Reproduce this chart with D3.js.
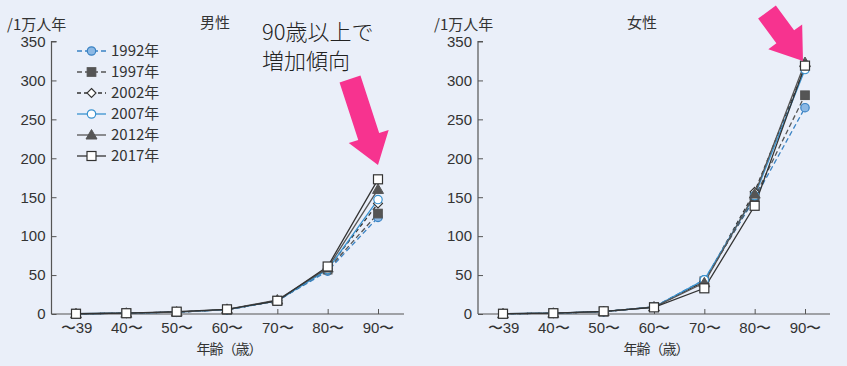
<!DOCTYPE html>
<html>
<head>
<meta charset="utf-8">
<script src="https://cdn.jsdelivr.net/npm/d3@7"></script>
<style>
  body { margin: 0; background: #eaeff9; }
  svg { display: block; font-family: "Noto Sans CJK JP", "Noto Sans", sans-serif; }
</style>
</head>
<body>
<div class="chart"></div>
<script>
var svgWidth = 847;
var svgHeight = 366;

// data (per 10,000 person-years)
var ages = ["〜39", "40〜", "50〜", "60〜", "70〜", "80〜", "90〜"];
var years = ["1992年", "1997年", "2002年", "2007年", "2012年", "2017年"];

var male1992 = [0.3, 1, 2.5, 5.5, 17, 55, 124];
var male1997 = [0.3, 1, 2.5, 5.5, 17, 57, 129];
var male2002 = [0.3, 1, 2.5, 5.5, 17, 58, 142];
var male2007 = [0.3, 1, 2.5, 5.5, 17, 57, 147];
var male2012 = [0.3, 1, 2.5, 6, 18, 59, 160];
var male2017 = [0.3, 1, 3, 6, 17, 61, 173];

var female1992 = [0.3, 1, 3, 9, 44, 148, 265];
var female1997 = [0.3, 1, 3, 9, 42, 150, 281];
var female2002 = [0.3, 1, 3, 9, 42, 157, 317];
var female2007 = [0.3, 1, 3, 9, 44, 152, 314];
var female2012 = [0.3, 1, 3, 9, 40, 154, 323];
var female2017 = [0.3, 1, 3.5, 8.5, 33, 139, 319];

var yTicks = [0, 50, 100, 150, 200, 250, 300, 350];

// series look
var styles = [
  { stroke: "#3a83c4", dash: "5,3", shape: "circle", fill: "#8cb8e4", mstroke: "#3a83c4" },
  { stroke: "#555", dash: "5,3", shape: "square", fill: "#555", mstroke: "#555" },
  { stroke: "#333", dash: "4,3", shape: "diamond", fill: "#fff", mstroke: "#333" },
  { stroke: "#3a93d0", dash: null, shape: "circle", fill: "#fff", mstroke: "#3a93d0" },
  { stroke: "#555", dash: null, shape: "triangle", fill: "#555", mstroke: "#555" },
  { stroke: "#333", dash: null, shape: "square", fill: "#fff", mstroke: "#333" }
];

var svg = d3.select(".chart")
  .append("svg")
  .attr("width", svgWidth)
  .attr("height", svgHeight);

function drawMarker(g, st, x, y) {
  if (st.shape == "circle") {
    g.append("circle").attr("cx", x).attr("cy", y).attr("r", 4.2)
      .attr("fill", st.fill).attr("stroke", st.mstroke).attr("stroke-width", 1.2);
  } else if (st.shape == "square") {
    var s = st.fill == "#fff" ? 9 : 8.5;
    g.append("rect").attr("x", x - s / 2).attr("y", y - s / 2).attr("width", s).attr("height", s)
      .attr("fill", st.fill).attr("stroke", st.mstroke).attr("stroke-width", 1.2);
  } else if (st.shape == "diamond") {
    g.append("path").attr("d", `M${x},${y - 4.5}L${x + 4.5},${y}L${x},${y + 4.5}L${x - 4.5},${y}Z`)
      .attr("fill", st.fill).attr("stroke", st.mstroke).attr("stroke-width", 1.1);
  } else {
    g.append("path").attr("d", `M${x},${y - 5.5}L${x + 5.5},${y + 4}L${x - 5.5},${y + 4}Z`)
      .attr("fill", st.fill).attr("stroke", st.mstroke).attr("stroke-width", 1);
  }
}

function drawPanel(opt) {
  var g = svg.append("g");

  var x = d3.scalePoint().domain(ages).range([opt.x0, opt.x1]);
  var y = d3.scaleLinear().domain([0, 350]).range([314, 41.5]);

  // y axis, ticks pointing inward
  var yAxis = g.append("g")
    .attr("transform", `translate(${opt.axisX},0)`)
    .call(d3.axisRight(y).tickValues(yTicks).tickSize(5).tickFormat(d3.format("d")));
  yAxis.select(".domain").attr("d", `M5,${y(350)}H0V${y(0)}`);
  yAxis.selectAll("line").attr("stroke", "#555");
  yAxis.select(".domain").attr("stroke", "#555").attr("stroke-width", 1.2);
  yAxis.selectAll("text")
    .attr("x", -6).attr("text-anchor", "end")
    .attr("font-size", 15).attr("fill", "#333");

  // x axis
  var xAxis = g.append("g")
    .attr("transform", "translate(0,314)")
    .call(d3.axisTop(x).tickSize(5));
  xAxis.select(".domain").attr("d", `M${opt.axisX},0H${opt.axisEnd}`)
    .attr("stroke", "#555").attr("stroke-width", 1.2);
  xAxis.selectAll("line").attr("stroke", "#555");
  xAxis.selectAll("text")
    .attr("y", 14).attr("dy", "0.35em")
    .attr("font-size", 15).attr("fill", "#333");

  g.append("text").attr("x", (opt.x0 + opt.x1) / 2 + 2).attr("y", 354)
    .attr("text-anchor", "middle").attr("font-size", 14).attr("fill", "#333")
    .attr("letter-spacing", -1)
    .text("年齢（歳）");

  g.append("text").attr("x", opt.unitX).attr("y", 30)
    .attr("font-size", 15).attr("fill", "#333").text("/1万人年");

  g.append("text").attr("x", opt.titleX).attr("y", 28)
    .attr("text-anchor", "middle").attr("font-size", 15).attr("fill", "#333")
    .text(opt.title);

  var line = d3.line()
    .x(function (d, i) { return x(ages[i]); })
    .y(function (d) { return y(d); });

  opt.series.forEach(function (vals, k) {
    var st = styles[k];
    g.append("path")
      .datum(vals)
      .attr("d", line)
      .attr("fill", "none")
      .attr("stroke", st.stroke)
      .attr("stroke-width", 1.3)
      .attr("stroke-dasharray", st.dash);
  });
  opt.series.forEach(function (vals, k) {
    vals.forEach(function (v, i) {
      drawMarker(g, styles[k], x(ages[i]), y(v));
    });
  });
}

drawPanel({
  title: "男性", titleX: 215, unitX: 7,
  axisX: 51.5, axisEnd: 404, x0: 76, x1: 378,
  series: [male1992, male1997, male2002, male2007, male2012, male2017]
});

drawPanel({
  title: "女性", titleX: 642, unitX: 434,
  axisX: 478, axisEnd: 830, x0: 503, x1: 805,
  series: [female1992, female1997, female2002, female2007, female2012, female2017]
});

// legend
var legend = svg.append("g");
years.forEach(function (name, k) {
  var st = styles[k];
  var ly = 51 + k * 21;
  legend.append("line").attr("x1", 77).attr("x2", 106).attr("y1", ly).attr("y2", ly)
    .attr("stroke", st.stroke).attr("stroke-width", 1.3)
    .attr("stroke-dasharray", st.dash);
  drawMarker(legend, st, 91.5, ly);
  legend.append("text").attr("x", 111).attr("y", ly).attr("dy", "0.35em")
    .attr("font-size", 15).attr("fill", "#333").text(name);
});

// annotation
svg.append("text").attr("x", 262).attr("y", 40)
  .attr("font-size", 22).attr("font-weight", 300).attr("fill", "#222").text("90歳以上で");
svg.append("text").attr("x", 262).attr("y", 69)
  .attr("font-size", 22).attr("font-weight", 300).attr("fill", "#222").text("増加傾向");

function arrow(x1, y1, x2, y2) {
  var dx = x2 - x1, dy = y2 - y1, len = Math.sqrt(dx * dx + dy * dy);
  var ux = dx / len, uy = dy / len, px = -uy, py = ux;
  var sw = 11, hw = 21, hl = 30;
  var bx = x2 - ux * hl, by = y2 - uy * hl;
  var pts = [
    [x1 + px * sw, y1 + py * sw], [bx + px * sw, by + py * sw], [bx + px * hw, by + py * hw],
    [x2, y2],
    [bx - px * hw, by - py * hw], [bx - px * sw, by - py * sw], [x1 - px * sw, y1 - py * sw]
  ];
  svg.append("path").attr("d", d3.line()(pts) + "Z").attr("fill", "#f7338f");
}
arrow(350, 79, 378, 165);
arrow(767, 12, 803, 61);
</script>
</body>
</html>
